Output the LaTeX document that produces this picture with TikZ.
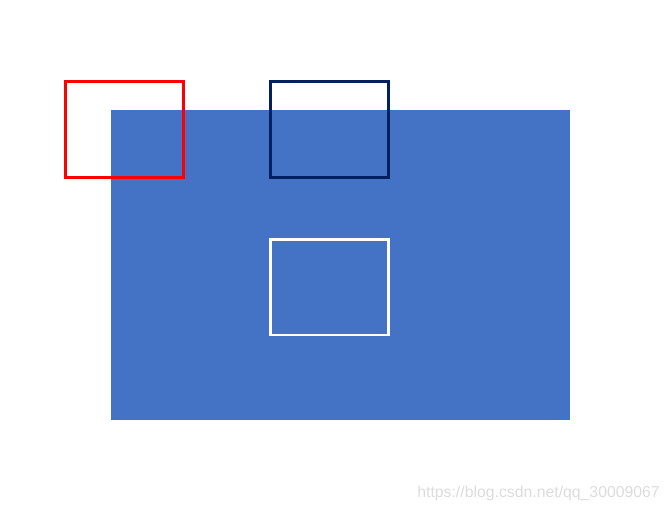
\documentclass[tikz,border=0pt]{standalone}
\usepackage{fontspec}
\setmainfont{Liberation Sans}
\definecolor{boxblue}{HTML}{4472C4}
\definecolor{darkblue}{HTML}{002060}
\definecolor{marklight}{HTML}{DCDCDC}
\tikzset{frame/.style={line width=2.7pt}}
\begin{document}
\begin{tikzpicture}[x=1pt,y=-1pt]
\useasboundingbox (0,0) rectangle (670,512);
\fill[boxblue](111,110) rectangle (570,420);
\draw[frame,red](65.3,81.3) rectangle (183.3,177.3);
\draw[frame,darkblue](270.3,81.3) rectangle (388.3,177.3);
\draw[frame,white](270.3,239.3) rectangle (388.3,335);
\node[anchor=east,inner sep=0pt,text=marklight,font=\fontsize{15.8}{18}\selectfont] (mark) at (660,493) {https://blog.csdn.net/qq\_30009067};
\end{tikzpicture}
\end{document}
